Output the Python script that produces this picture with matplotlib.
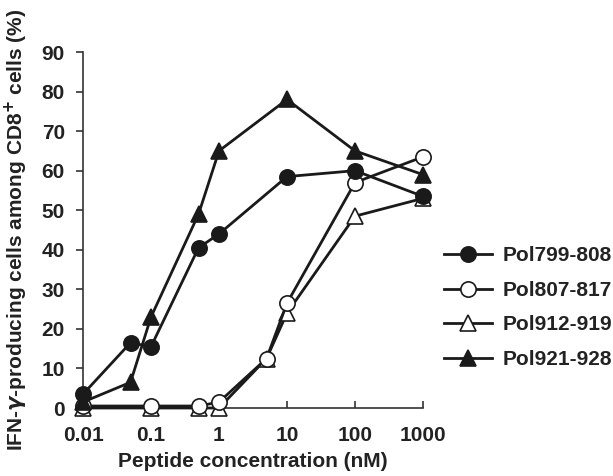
import matplotlib
matplotlib.use("Agg")
import matplotlib.pyplot as plt
import numpy as np

plt.rcParams['font.family'] = ['Liberation Sans', 'DejaVu Sans']
plt.rcParams['font.weight'] = 'bold'

x799 = [0.01, 0.05, 0.1, 0.5, 1, 10, 100, 1000]
y799 = [3.5, 16.5, 15.5, 40.5, 44, 58.5, 60, 53.5]
x807 = [0.01, 0.1, 0.5, 1, 5, 10, 100, 1000]
y807 = [0.5, 0.5, 0.5, 1.5, 12.5, 26.5, 57, 63.5]
x912 = [0.01, 0.1, 0.5, 1, 5, 10, 100, 1000]
y912 = [0, 0, 0, 0, 12.5, 24, 48.5, 53]
x921 = [0.01, 0.05, 0.1, 0.5, 1, 10, 100, 1000]
y921 = [1.5, 6.5, 23, 49, 65, 78, 65, 59]
labels = ['Pol799-808', 'Pol807-817', 'Pol912-919', 'Pol921-928']
xticks = [0.01, 0.1, 1, 10, 100, 1000]
xticklabels = ['0.01', '0.1', '1', '10', '100', '1000']
yticks = list(range(0, 100, 10))

fig = plt.figure(figsize=(6.13, 4.76), dpi=100)
ax = fig.add_axes([83/613, 68/476, 340/613, 356/476])

common = dict(color='#1a1a1a', lw=2, ms=11, mec='#1a1a1a', mew=1.2, clip_on=False)
ax.plot(x912, y912, marker='^', mfc='white', label=labels[2], zorder=3, **common)
ax.plot(x807, y807, marker='o', mfc='white', label=labels[1], zorder=3, **common)
ax.plot(x799, y799, marker='o', mfc='#1a1a1a', label=labels[0], zorder=4, **common)
ax.plot(x921, y921, marker='^', mfc='#1a1a1a', label=labels[3], zorder=4, **common)

ax.set_xscale('log')
ax.set_xlim(0.01, 1000)
ax.set_ylim(0, 90)
ax.set_xticks(xticks)
ax.set_xticklabels(xticklabels)
ax.minorticks_off()
ax.set_yticks(yticks)
ax.spines['top'].set_visible(False)
ax.spines['right'].set_visible(False)
for s in ['left', 'bottom']:
    ax.spines[s].set_linewidth(1.2)
    ax.spines[s].set_color('#333333')
ax.tick_params(axis='x', direction='in', length=5, width=1.2, labelsize=15, pad=13, colors='#333333', labelcolor='#222222')
ax.tick_params(axis='y', direction='out', length=5, width=1.2, labelsize=15, pad=8, colors='#333333', labelcolor='#222222')

ax.set_xlabel('Peptide concentration (nM)', fontsize=15, fontweight='bold', color='#222222', labelpad=5)
ax.set_ylabel('IFN-$\\gamma$-producing cells among CD8$^{+}$ cells (%)', fontsize=15, fontweight='bold', color='#222222', labelpad=8)

h, l = ax.get_legend_handles_labels()
hmap = dict(zip(l, h))
leg = fig.legend([hmap[t] for t in labels], labels, loc='upper left', bbox_to_anchor=(440/613, 1 - 242/476),
                 frameon=False, fontsize=15, handlelength=2.3, labelspacing=0.75, handletextpad=0.5,
                 borderaxespad=0, borderpad=0.2)
for t in leg.get_texts():
    t.set_color('#222222')

fig.savefig('out.png', dpi=100)
